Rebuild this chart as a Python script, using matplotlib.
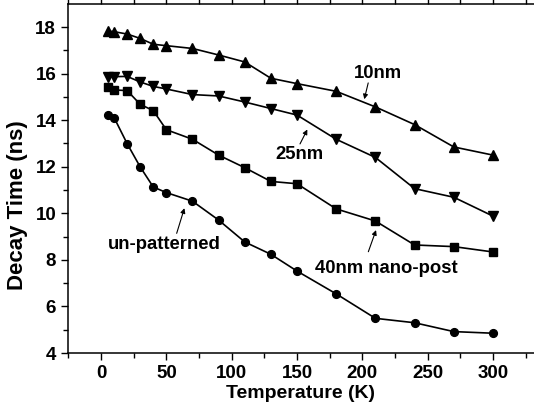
import numpy as np
import matplotlib.pyplot as plt
from matplotlib.ticker import MultipleLocator

plt.rcParams['font.family'] = ['Liberation Sans', 'DejaVu Sans']
plt.rcParams['font.weight'] = 'bold'

temp = [5, 10, 20, 30, 40, 50, 70, 90, 110, 130, 150, 180, 210, 240, 270, 300]
nm10 = [17.83, 17.8, 17.7, 17.51, 17.26, 17.2, 17.08, 16.8, 16.5, 15.8, 15.57,
        15.24, 14.57, 13.81, 12.85, 12.5]
nm25 = [15.87, 15.87, 15.88, 15.64, 15.45, 15.34, 15.1, 15.04, 14.78, 14.5,
        14.22, 13.18, 12.4, 11.06, 10.69, 9.88]
nm40 = [15.41, 15.3, 15.27, 14.68, 14.41, 13.59, 13.18, 12.5, 11.96, 11.37,
        11.27, 10.19, 9.67, 8.64, 8.57, 8.34]
unpat = [14.22, 14.11, 12.99, 11.99, 11.13, 10.89, 10.52, 9.71, 8.77, 8.24,
         7.52, 6.54, 5.49, 5.3, 4.92, 4.85]

fig = plt.figure(figsize=(5.34, 4.16), dpi=100)
ax = fig.add_axes([0.1273, 0.1514, 0.8727, 0.839])

lw = 1.2
ax.plot(temp, nm10, 'k-^', lw=lw, ms=6.5)
ax.plot(temp, nm25, 'k-v', lw=lw, ms=6.5)
ax.plot(temp, nm40, 'k-s', lw=lw, ms=5.2)
ax.plot(temp, unpat, 'k-o', lw=lw, ms=5.6)

ax.set_xlim(-25.3, 331.4)
ax.set_ylim(4, 18.99)
ax.xaxis.set_major_locator(MultipleLocator(50))
ax.xaxis.set_minor_locator(MultipleLocator(25))
ax.yaxis.set_major_locator(MultipleLocator(2))
ax.yaxis.set_minor_locator(MultipleLocator(1))
ax.tick_params(which='both', direction='out', top=True, labelsize=13.5, width=1)
ax.tick_params(which='major', length=5)
ax.tick_params(which='minor', length=3.5)
ax.spines['right'].set_visible(False)
for s in ['left', 'bottom', 'top']:
    ax.spines[s].set_linewidth(1.1)

ax.set_xlabel('Temperature (K)', fontsize=14, fontweight='bold', labelpad=2)
ax.set_ylabel('Decay Time (ns)', fontsize=16, fontweight='bold')
ax.yaxis.set_label_coords(-0.086, 0.424)

arrow = dict(arrowstyle='-|>', color='k', lw=0.8, mutation_scale=7,
             shrinkA=0, shrinkB=0)
fs = 13.3
ax.text(211.8, 16.01, '10nm', ha='center', va='center', fontsize=fs, fontweight='bold')
ax.annotate('', xy=(201.5, 14.9), xytext=(204.5, 15.6), arrowprops=arrow)
ax.text(151.5, 12.53, '25nm', ha='center', va='center', fontsize=fs, fontweight='bold')
ax.annotate('', xy=(157.9, 13.6), xytext=(152.3, 12.98), arrowprops=arrow)
ax.text(48.5, 8.64, 'un-patterned', ha='center', va='center', fontsize=fs, fontweight='bold')
ax.annotate('', xy=(63.8, 10.22), xytext=(57.9, 9.14), arrowprops=arrow)
ax.text(218.6, 7.64, '40nm nano-post', ha='center', va='center', fontsize=fs, fontweight='bold')
ax.annotate('', xy=(210.5, 9.28), xytext=(204.6, 8.35), arrowprops=arrow)

fig.savefig('out.png', dpi=100)
